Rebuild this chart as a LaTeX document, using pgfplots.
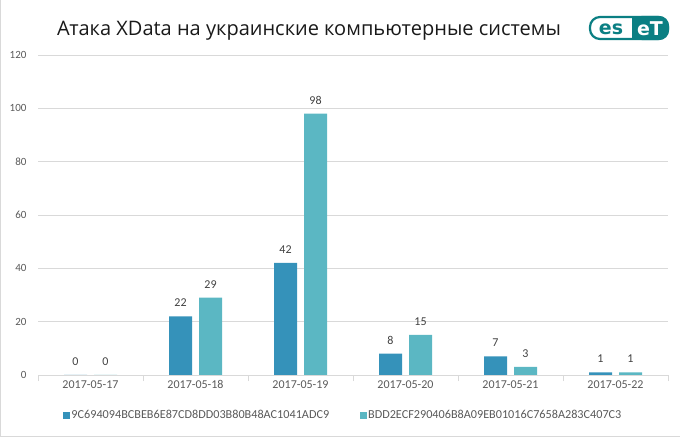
\documentclass[border=0pt]{standalone}
\usepackage{pgfplots}
\pgfplotsset{compat=1.18}
\usepackage{fontspec}
\setmainfont{Carlito}
\newfontfamily\titlefont{Open Sans}
\newfontfamily\logofont{DejaVu Sans}
\definecolor{sA}{HTML}{3592BA}
\definecolor{sB}{HTML}{5BB7C3}
\definecolor{gridc}{HTML}{D9D9D9}
\definecolor{txt}{HTML}{595959}
\definecolor{lbl}{HTML}{404040}
\definecolor{esetc}{HTML}{0B7F83}
\begin{document}
\begin{tikzpicture}[x=1pt,y=1pt]
\useasboundingbox (0,0) rectangle (680,439);
\draw[gridc, line width=0.8pt] (0.4,439) -- (0.4,3) -- (680,3);
% title
\node[anchor=base, font=\titlefont\fontsize{20}{22}\selectfont, text=black!90] at (309,439-36) {Атака XData на украинские компьютерные системы};
% logo
\begin{scope}
\draw[esetc, line width=2.2pt, rounded corners=10pt, fill=white] (590,439-39) rectangle (668,439-17);
\fill[esetc, rounded corners=10pt] (632,439-40.1) rectangle (669.1,439-15.9);
\fill[esetc] (632,439-40.1) rectangle (640,439-15.9);
\node[font=\logofont\bfseries\fontsize{19}{20}\selectfont, text=esetc, inner sep=0] at (611,439-29) {es};
\node[font=\logofont\bfseries\fontsize{19}{20}\selectfont, text=white, inner sep=0] at (650,439-29) {eT};
\end{scope}
\begin{axis}[
  at={(38pt,64pt)}, anchor=south west,
  scale only axis, width=630pt, height=320pt,
  ymin=0, ymax=120, ytick={0,20,...,120},
  enlargelimits=false,
  xmin=-0.5, xmax=5.5,
  xtick={0,...,5},
  xticklabels={2017-05-17,2017-05-18,2017-05-19,2017-05-20,2017-05-21,2017-05-22},
  extra x ticks={-0.5,0.5,...,5.5},
  extra x tick labels={},
  extra x tick style={major tick length=6pt, tick style={gridc, line width=0.8pt}, tick align=outside, xmajorgrids=false},
  major tick length=0pt,
  axis x line*=bottom, axis y line*=left,
  x axis line style={gridc, line width=0.8pt, -},
  y axis line style={draw=none},
  ymajorgrids, grid style={gridc, line width=0.8pt},
  yticklabel style={font=\fontsize{11}{12}\selectfont, text=txt, anchor=east, xshift=-8pt},
  xticklabel style={font=\fontsize{12}{13}\selectfont, text=txt, yshift=-2pt},
  /pgf/number format/assume math mode=true,
  ybar=7pt, bar width=23pt,
  nodes near coords,
  every node near coord/.append style={font=\fontsize{12}{13}\selectfont, text=lbl, yshift=6pt},
  legend style={at={(0.484,-0.125)}, anchor=center, draw=none, fill=none, legend columns=2,
    font=\fontsize{12.2}{13}\selectfont, text=txt,
    nodes={inner xsep=1pt},
    /tikz/every even column/.append style={column sep=30pt}},
  legend image code/.code={\fill[#1] (0pt,-3.5pt) rectangle (7pt,3.5pt);},
]
\addplot[fill=sA, draw=none] coordinates {(0,0) (1,22) (2,42) (3,8) (4,7) (5,1)};
\addplot[fill=sB, draw=none] coordinates {(0,0) (1,29) (2,98) (3,15) (4,3) (5,1)};
\legend{9C694094BCBEB6E87CD8DD03B80B48AC1041ADC9, BDD2ECF290406B8A09EB01016C7658A283C407C3}
\end{axis}
\end{tikzpicture}
\end{document}
